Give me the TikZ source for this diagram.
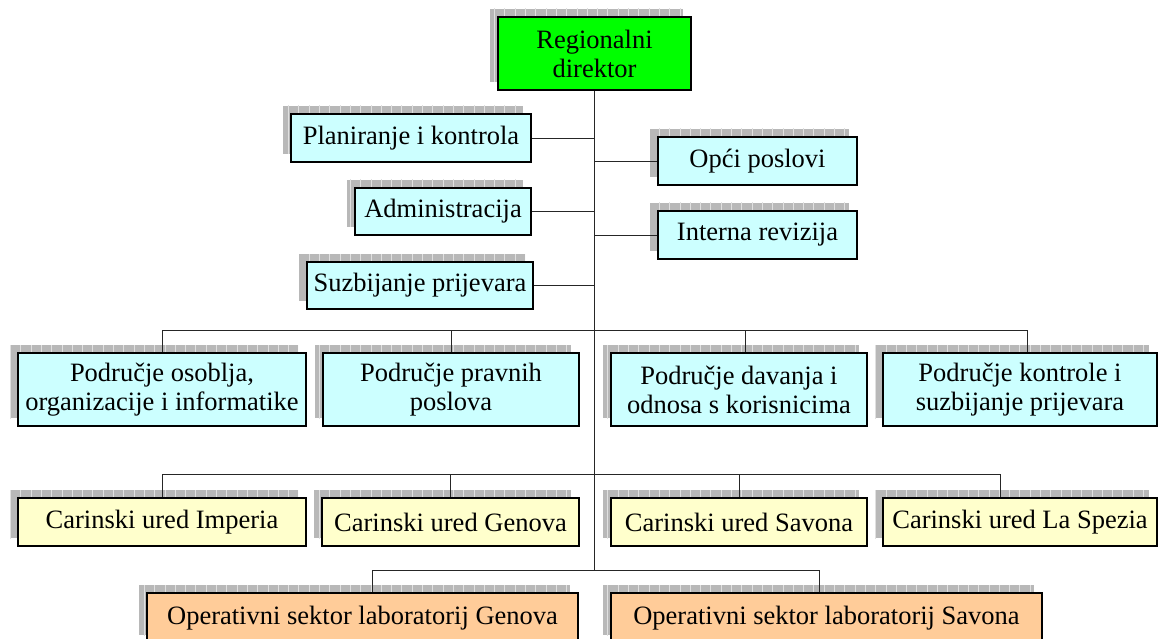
\documentclass[tikz,border=0pt]{standalone}
\usepackage{fontspec}
\setmainfont{Liberation Serif}
\definecolor{cgreen}{HTML}{00FF00}
\definecolor{ccyan}{HTML}{CCFFFF}
\definecolor{cyell}{HTML}{FFFFCC}
\definecolor{corange}{HTML}{FFCC99}
\tikzset{
  orgnode/.style={draw=black, line width=1.6pt, align=center, inner sep=0pt,
    font=\fontsize{26.5}{29}\selectfont},
  shadowfill/.style={fill=black!28},
  shadowgrid/.style={draw=black!12, line width=0.5pt},
  conn/.style={draw=black!85, line width=0.9pt}
}
% #1 name, #2 x1, #3 y1, #4 x2, #5 y2, #6 fill colour, #7 text
\newcommand\orgbox[7]{%
  \fill[shadowfill] ({#2-8},{#3-8}) rectangle ({#4-8},{#5-8});
  \begin{scope}
    \clip ({#2-8},{#3-8}) rectangle ({#4-8},{#5-8});
    \draw[shadowgrid, step=10.3] (0,0) grid (1159,660);
  \end{scope}
  \node[orgnode, fill=#6, minimum width={#4-#2}, minimum height={#5-#3}] (#1)
    at ({(#2+#4)/2},{(#3+#5)/2}) {#7};
}
\begin{document}
\begin{tikzpicture}[x=1pt,y=-1pt]
\clip (0,0) rectangle (1159,639);
\fill[white] (0,0) rectangle (1159,639);
% top
\orgbox{dir}{498}{17}{691}{90}{cgreen}{Regionalni\\direktor}
\orgbox{plan}{291}{114}{531}{162}{ccyan}{Planiranje i kontrola}
\orgbox{opci}{658}{137}{857}{185}{ccyan}{Opći poslovi}
\orgbox{adm}{355}{188}{531}{235}{ccyan}{Administracija}
\orgbox{rev}{658}{211}{857}{259}{ccyan}{Interna revizija}
\orgbox{suz}{307}{262}{533}{309}{ccyan}{Suzbijanje prijevara}
% areas
\orgbox{osob}{18}{353}{306}{426}{ccyan}{Područje osoblja,\\organizacije i informatike}
\orgbox{prav}{323}{353}{579}{426}{ccyan}{Područje pravnih\\poslova}
\orgbox{dav}{611}{353}{867}{426}{ccyan}{Područje davanja i\\odnosa s korisnicima}
\orgbox{kont}{883}{353}{1157}{426}{ccyan}{Područje kontrole i\\suzbijanje prijevara}
% customs offices
\orgbox{imp}{18}{498}{306}{546}{cyell}{Carinski ured Imperia}
\orgbox{gen}{322}{498}{579}{546}{cyell}{Carinski ured Genova}
\orgbox{sav}{611}{498}{867}{546}{cyell}{Carinski ured Savona}
\orgbox{spe}{883}{498}{1157}{546}{cyell}{Carinski ured La Spezia}
% operative sectors
\orgbox{opg}{147}{593}{578}{643}{corange}{Operativni sektor laboratorij Genova}
\orgbox{ops}{611}{593}{1042}{643}{corange}{Operativni sektor laboratorij Savona}
% connectors
\coordinate (trunkend) at (594.5,570);
\coordinate (areabar) at (594.5,330);
\coordinate (custbar) at (594.5,474);
\draw[conn] (dir.south) -- (trunkend);
\draw[conn] (plan.east) -- (plan.east -| dir.south);
\draw[conn] (adm.east) -- (adm.east -| dir.south);
\draw[conn] (suz.east) -- (suz.east -| dir.south);
\draw[conn] (opci.west) -- (opci.west -| dir.south);
\draw[conn] (rev.west) -- (rev.west -| dir.south);
\draw[conn] (osob.north) |- (areabar);
\draw[conn] (prav.north) |- (areabar);
\draw[conn] ([xshift=6pt]dav.north) |- (areabar);
\draw[conn] ([xshift=7pt]kont.north) |- (areabar);
\draw[conn] (imp.north) |- (custbar);
\draw[conn] (gen.north) |- (custbar);
\draw[conn] (sav.north) |- (custbar);
\draw[conn] ([xshift=-20pt]spe.north) |- (custbar);
\draw[conn] ([xshift=10pt]opg.north) |- (trunkend);
\draw[conn] ([xshift=-7pt]ops.north) |- (trunkend);
\end{tikzpicture}
\end{document}
